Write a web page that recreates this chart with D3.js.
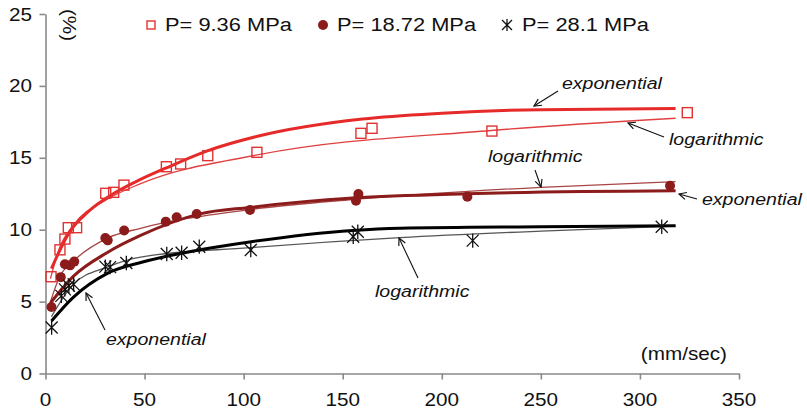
<!DOCTYPE html>
<html>
<head>
<meta charset="utf-8">
<script src="https://cdnjs.cloudflare.com/ajax/libs/d3/7.8.5/d3.min.js"></script>
<style>
  body { margin: 0; background: #fff; }
  text { font-family: "Liberation Sans", Arial, sans-serif; }
</style>
</head>
<body>
<div id="chart"></div>
<script>
// measured points, speed (mm/sec) vs strain (%)
var speed1 = [2.8, 7.3, 9.8, 11.5, 15.7, 30.4, 34.4, 39.6, 61, 68.2, 81.9, 106.7, 159.2, 164.8, 225.3, 323.9];
var strain1 = [6.73, 8.6, 9.35, 10.14, 10.14, 12.53, 12.6, 13.1, 14.38, 14.57, 15.15, 15.38, 16.7, 17.05, 16.86, 18.14];

var speed2 = [3.0, 7.7, 9.8, 12.4, 14.5, 30.2, 31.4, 39.7, 60.7, 66.2, 76.3, 103.2, 156.7, 157.9, 212.9, 315.2];
var strain2 = [4.62, 6.7, 7.6, 7.52, 7.78, 9.42, 9.26, 9.95, 10.56, 10.86, 11.09, 11.37, 12.02, 12.48, 12.3, 13.06];

var speed3 = [3.1, 8.0, 9.8, 11.8, 14.2, 30.2, 32.6, 40.8, 61.2, 68.7, 77.6, 103.6, 155.3, 157.6, 215.6, 311];
var strain3 = [3.2, 5.4, 5.85, 6.1, 6.2, 7.43, 7.4, 7.68, 8.31, 8.4, 8.82, 8.59, 9.51, 9.86, 9.24, 10.2];

// trend lines
var expX1 = [3, 7, 12, 22, 33, 48, 61, 82, 107, 160, 200, 250, 318];
var expY1 = [7.3, 8.5, 9.8, 11.3, 12.4, 13.5, 14.3, 15.5, 16.5, 17.7, 18.1, 18.35, 18.42];
var logX1 = [2.5, 7, 14, 31, 48, 107, 225, 318];
var logY1 = [6.6, 8.7, 10.3, 12.1, 13.2, 15.2, 16.9, 17.75];

var expX2 = [2.5, 14, 31, 48, 78, 103, 155, 213, 318];
var expY2 = [4.9, 6.75, 8.4, 9.6, 11.1, 11.55, 12.2, 12.5, 12.7];
var logX2 = [2.5, 7, 14, 31, 48, 103, 155, 250, 318];
var logY2 = [5.0, 6.7, 7.8, 9.4, 10.1, 11.4, 12.1, 12.95, 13.35];

var expX3 = [3, 14, 31, 49, 78, 103, 155, 179, 250, 318];
var expY3 = [3.65, 5.3, 6.95, 7.75, 8.6, 9.15, 9.95, 10.1, 10.2, 10.27];
var logX3 = [3, 14, 31, 48, 103, 179, 250, 318];
var logY3 = [3.95, 6.2, 7.4, 8.1, 8.75, 9.45, 9.9, 10.25];

var seriesNames = ["P= 9.36 MPa", "P= 18.72 MPa", "P= 28.1 MPa"];
var xTicks = [0, 50, 100, 150, 200, 250, 300, 350];
var yTicks = [0, 5, 10, 15, 20, 25];

var W = 807, H = 409;
var SX = 1.15; // text in the picture is a bit wide

var svg = d3.select("#chart").append("svg")
    .attr("width", W)
    .attr("height", H);

var x = d3.scaleLinear().domain([0, 350]).range([45.5, 739]);
var y = d3.scaleLinear().domain([0, 25]).range([373.5, 14]);

function label(g, px, py, str, size, anchor, italic) {
    return g.append("text")
        .attr("transform", "translate(" + px + "," + py + ") scale(" + SX + ",1)")
        .attr("text-anchor", anchor || "start")
        .attr("font-size", size)
        .attr("font-style", italic ? "italic" : "normal")
        .attr("fill", "#111")
        .text(str);
}

//////// AXES ////////
var axisColor = "#8a8a8a";

var gx = svg.append("g")
    .attr("transform", "translate(0," + y(0) + ")")
    .call(d3.axisBottom(x).tickValues(xTicks).tickSize(6).tickSizeOuter(0).tickFormat(""));
var gy = svg.append("g")
    .attr("transform", "translate(" + x(0) + ",0)")
    .call(d3.axisLeft(y).tickValues(yTicks).tickSize(6).tickSizeOuter(0).tickFormat(""));

[gx, gy].forEach(function(g) {
    g.select(".domain").attr("stroke", axisColor).attr("stroke-width", 1.6);
    g.selectAll(".tick line").attr("stroke", axisColor).attr("stroke-width", 1.6);
});

xTicks.forEach(function(t) { label(svg, x(t), 406, t, 18, "middle"); });
yTicks.forEach(function(t) { label(svg, 32, y(t) + 6.5, t, 18, "end"); });

// y title, rotated
svg.append("text")
    .attr("transform", "translate(63,25) rotate(90) scale(" + SX + ",1)")
    .attr("text-anchor", "middle")
    .attr("font-size", 18)
    .attr("fill", "#111")
    .text("(%)");

label(svg, 727, 360, "(mm/sec)", 18, "end");

//////// TREND LINES ////////
var line = d3.line()
    .x(function(d) { return x(d[0]); })
    .y(function(d) { return y(d[1]); })
    .curve(d3.curveMonotoneX);

function zip(a, b) { return a.map(function(v, i) { return [v, b[i]]; }); }

var trends = [
    { pts: zip(logX1, logY1), color: "#e04040", w: 1.3 },
    { pts: zip(logX2, logY2), color: "#a84545", w: 1.3 },
    { pts: zip(logX3, logY3), color: "#555", w: 1.3 },
    { pts: zip(expX1, expY1), color: "#e62a2a", w: 3 },
    { pts: zip(expX2, expY2), color: "#8c1b1b", w: 3 },
    { pts: zip(expX3, expY3), color: "#000", w: 3 }
];

svg.append("g").selectAll("path")
    .data(trends)
    .enter().append("path")
        .attr("d", function(d) { return line(d.pts); })
        .attr("fill", "none")
        .attr("stroke", function(d) { return d.color; })
        .attr("stroke-width", function(d) { return d.w; });

//////// MARKERS ////////
var red = "#e03232", dark = "#8c1b1b";

function square(g, px, py, s) {
    g.append("rect")
        .attr("x", px - s / 2).attr("y", py - s / 2)
        .attr("width", s).attr("height", s)
        .attr("fill", "#fff").attr("fill-opacity", 0)
        .attr("stroke", red).attr("stroke-width", 1.4);
}
function dot(g, px, py, r) {
    g.append("circle").attr("cx", px).attr("cy", py).attr("r", r).attr("fill", dark);
}
function star(g, px, py, s) {
    var h = s / 2;
    g.append("path")
        .attr("d", "M" + (px - h) + "," + (py - h) + "L" + (px + h) + "," + (py + h) +
                   "M" + (px - h) + "," + (py + h) + "L" + (px + h) + "," + (py - h) +
                   "M" + px + "," + (py - h * 1.2) + "L" + px + "," + (py + h * 1.2))
        .attr("stroke", "#111").attr("stroke-width", 1.3).attr("fill", "none");
}

var marks = svg.append("g");
speed1.forEach(function(v, i) { square(marks, x(v), y(strain1[i]), 10); });
speed2.forEach(function(v, i) { dot(marks, x(v), y(strain2[i]), 5); });
speed3.forEach(function(v, i) { star(marks, x(v), y(strain3[i]), 12); });

//////// LEGEND ////////
var lg = svg.append("g");
square(lg, 151, 25, 8);
label(lg, 165, 31, seriesNames[0], 19);
dot(lg, 323, 25, 5);
label(lg, 337, 31, seriesNames[1], 19);
star(lg, 507, 25, 10);
label(lg, 522, 31, seriesNames[2], 19);

//////// ANNOTATIONS ////////
svg.append("defs").append("marker")
    .attr("id", "arr")
    .attr("viewBox", "0 0 10 10")
    .attr("refX", 9).attr("refY", 5)
    .attr("markerWidth", 9).attr("markerHeight", 9)
    .attr("markerUnits", "userSpaceOnUse")
    .attr("orient", "auto")
  .append("path")
    .attr("d", "M1,1 L9,5 L1,9")
    .attr("fill", "none").attr("stroke", "#111").attr("stroke-width", 1.3);

var notes = [
    { t: "exponential", tx: 562, ty: 89, a: [558, 91, 534, 106] },
    { t: "logarithmic", tx: 669, ty: 145, a: [664, 137, 628, 123] },
    { t: "logarithmic", tx: 488, ty: 162, a: [535, 170, 541, 187] },
    { t: "exponential", tx: 702, ty: 205, a: [697, 199, 679, 194] },
    { t: "logarithmic", tx: 375, ty: 297, a: [418, 278, 399, 238] },
    { t: "exponential", tx: 106, ty: 345, a: [105, 330, 86, 293] }
];

notes.forEach(function(n) {
    label(svg, n.tx, n.ty, n.t, 17, "start", true);
    svg.append("line")
        .attr("x1", n.a[0]).attr("y1", n.a[1])
        .attr("x2", n.a[2]).attr("y2", n.a[3])
        .attr("stroke", "#111").attr("stroke-width", 1.1)
        .attr("marker-end", "url(#arr)");
});
</script>
</body>
</html>
